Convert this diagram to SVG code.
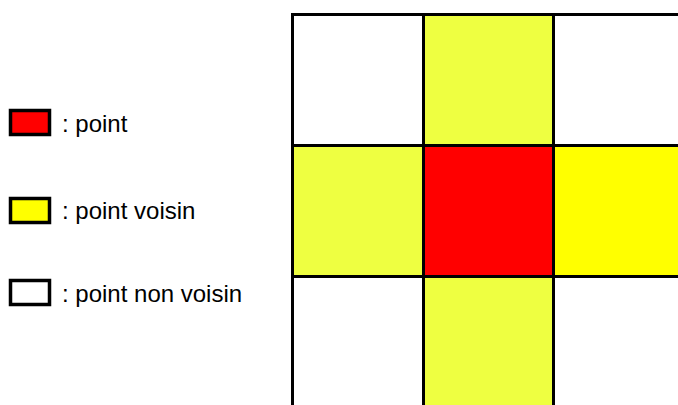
<svg xmlns="http://www.w3.org/2000/svg" width="678" height="405" viewBox="0 0 678 405">
<style>
.c{stroke:#000;stroke-width:3}
.l{stroke:#000;stroke-width:3.5}
.w{fill:#fff}
.y{fill:#eeff41}
.yy{fill:#ffff00}
.r{fill:#ff0000}
.t{font-family:"Liberation Sans",Arial,sans-serif;font-size:24px;fill:#000}
</style>
<rect width="678" height="405" fill="#fff"/>
<g id="grid">
<rect id="c00" class="c w" x="292.5" y="14.5" width="131" height="131"/>
<rect id="c01" class="c y" x="423.5" y="14.5" width="130" height="131"/>
<rect id="c02" class="c w" x="553.5" y="14.5" width="130" height="131"/>
<rect id="c10" class="c y" x="292.5" y="145.5" width="131" height="131"/>
<rect id="c11" class="c r" x="423.5" y="145.5" width="130" height="131"/>
<rect id="c12" class="c yy" x="553.5" y="145.5" width="130" height="131"/>
<rect id="c20" class="c w" x="292.5" y="276.5" width="131" height="140"/>
<rect id="c21" class="c y" x="423.5" y="276.5" width="130" height="140"/>
<rect id="c22" class="c w" x="553.5" y="276.5" width="130" height="140"/>
</g>
<g id="legend-point">
<rect class="l r" x="10.5" y="110.5" width="39" height="24"/>
<text class="t" x="62" y="131.5">: point</text>
</g>
<g id="legend-voisin">
<rect class="l yy" x="10.5" y="198.5" width="39" height="24"/>
<text class="t" x="62" y="219">: point voisin</text>
</g>
<g id="legend-nonvoisin">
<rect class="l w" x="10.5" y="280.5" width="39" height="24"/>
<text class="t" x="62" y="301.5">: point non voisin</text>
</g>
<g id="connectors"/>
</svg>
